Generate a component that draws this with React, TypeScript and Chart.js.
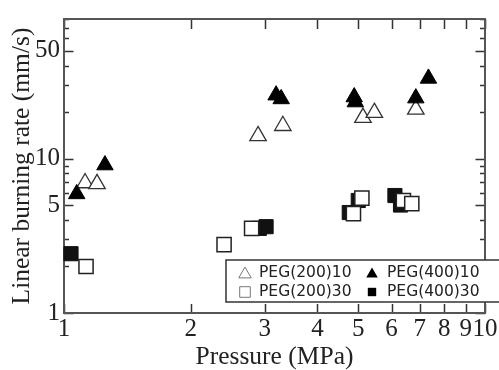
import React, { useEffect, useRef } from 'react';
import { Chart, registerables } from 'chart.js';

Chart.register(...registerables);

// ---- data ----
const seriesLabels = ['PEG(200)10', 'PEG(400)10', 'PEG(200)30', 'PEG(400)30'];

const peg200_10_x = [1.122, 1.198, 2.89, 3.31, 5.13, 5.46, 6.85];
const peg200_10_y = [6.94, 6.85, 14.0, 16.3, 18.4, 19.8, 20.8];

const peg400_10_x = [1.072, 1.251, 3.19, 3.28, 4.89, 4.92, 6.85, 7.34];
const peg400_10_y = [5.9, 9.07, 25.7, 24.3, 25.0, 23.2, 24.6, 33.0];

const peg200_30_x = [1.128, 2.40, 2.79, 4.87, 5.10, 6.40, 6.70];
const peg200_30_y = [2.0, 2.77, 3.53, 4.40, 5.54, 5.35, 5.10];

const peg400_30_x = [1.039, 2.91, 3.02, 4.76, 5.0, 6.11, 6.3];
const peg400_30_y = [2.42, 3.53, 3.62, 4.47, 5.35, 5.76, 5.0];

const xTicks = [1, 2, 3, 4, 5, 6, 7, 8, 9, 10];
const yTicks = [1, 2, 3, 4, 5, 6, 7, 8, 9, 10, 20, 30, 40, 50, 60, 70, 80];
const yLabelled = [1, 5, 10, 50];

const xTitle = 'Pressure (MPa)';
const yTitle = 'Linear burning rate (mm/s)';

const SERIF = '"Liberation Serif", "Times New Roman", serif';
const SANS = '"DejaVu Sans", Verdana, sans-serif';

const pts = (xs: number[], ys: number[]) => xs.map((x, i) => ({ x, y: ys[i] }));

const framePlugin = {
  id: 'frameTicks',
  beforeDatasetsDraw(chart: any) {
    const { ctx, chartArea, scales } = chart;
    const { left, right, top, bottom } = chartArea;
    const xs = scales.x;
    const ys = scales.y;
    ctx.save();
    ctx.strokeStyle = '#333';
    ctx.lineWidth = 1.5;
    ctx.beginPath();
    xTicks.forEach((v) => {
      const px = Math.round(xs.getPixelForValue(v)) + 0.5;
      ctx.moveTo(px, bottom);
      ctx.lineTo(px, bottom - 9);
      ctx.moveTo(px, top);
      ctx.lineTo(px, top + 10);
    });
    yTicks.forEach((v) => {
      const py = Math.round(ys.getPixelForValue(v)) + 0.5;
      const len = yLabelled.includes(v) ? 9.5 : 5;
      ctx.moveTo(left, py);
      ctx.lineTo(left + len, py);
      ctx.moveTo(right, py);
      ctx.lineTo(right - len, py);
    });
    ctx.stroke();
    ctx.strokeStyle = '#555';
    ctx.lineWidth = 2;
    ctx.strokeRect(left, top, right - left, bottom - top);
    ctx.restore();
  },
};

const legendPlugin = {
  id: 'boxLegend',
  afterDatasetsDraw(chart: any) {
    const { ctx, chartArea } = chart;
    const boxLeft = 226;
    const boxTop = 260;
    const boxBottom = 302;
    const boxRight = chartArea.right + 20;
    ctx.save();
    ctx.fillStyle = '#fff';
    ctx.fillRect(boxLeft, boxTop, boxRight - boxLeft, boxBottom - boxTop);
    ctx.strokeStyle = '#333';
    ctx.lineWidth = 1.5;
    ctx.strokeRect(boxLeft, boxTop, boxRight - boxLeft, boxBottom - boxTop);

    const colSym = [245, 372];
    const colText = [259, 387];
    const rowY = [272.5, 292];
    const layout: Record<string, [number, number]> = {
      [seriesLabels[0]]: [0, 0],
      [seriesLabels[1]]: [1, 0],
      [seriesLabels[2]]: [0, 1],
      [seriesLabels[3]]: [1, 1],
    };
    chart.data.datasets.forEach((ds: any) => {
      const pos = layout[ds.label];
      if (!pos) return;
      const cx = colSym[pos[0]];
      const cy = rowY[pos[1]];
      const filled = ds.backgroundColor !== '#ffffff';
      ctx.beginPath();
      if (ds.pointStyle === 'triangle') {
        const r = filled ? 6.7 : 7.2;
        const cyy = cy + r * 0.25;
        for (let k = 0; k < 3; k++) {
          const a = (k * 2 * Math.PI) / 3;
          const px = cx + Math.sin(a) * r;
          const py = cyy - Math.cos(a) * r;
          if (k === 0) ctx.moveTo(px, py);
          else ctx.lineTo(px, py);
        }
        ctx.closePath();
      } else {
        const h = filled ? 4.2 : 5.3;
        ctx.rect(cx - h, cy - h, 2 * h, 2 * h);
      }
      if (filled) {
        ctx.fillStyle = '#000';
        ctx.fill();
      } else {
        ctx.fillStyle = '#fff';
        ctx.fill();
        ctx.strokeStyle = '#777';
        ctx.lineWidth = 1;
        ctx.stroke();
      }
      ctx.fillStyle = '#222';
      ctx.font = `15.5px ${SANS}`;
      ctx.textAlign = 'left';
      ctx.textBaseline = 'middle';
      ctx.fillText(ds.label, colText[pos[0]], cy);
    });
    ctx.restore();
  },
};

export default function App() {
  const ref = useRef<HTMLCanvasElement | null>(null);

  useEffect(() => {
    if (!ref.current) return;
    const chart = new Chart(ref.current, {
      type: 'scatter',
      data: {
        datasets: [
          {
            label: seriesLabels[1],
            data: pts(peg400_10_x, peg400_10_y),
            pointStyle: 'triangle',
            pointRadius: 9.5,
            backgroundColor: '#000000',
            borderColor: '#000000',
            borderWidth: 1,
            clip: false,
          },
          {
            label: seriesLabels[2],
            data: pts(peg200_30_x, peg200_30_y),
            pointStyle: 'rect',
            pointRadius: 10,
            backgroundColor: '#ffffff',
            borderColor: '#222222',
            borderWidth: 1.5,
            clip: false,
          },
          {
            label: seriesLabels[0],
            data: pts(peg200_10_x, peg200_10_y),
            pointStyle: 'triangle',
            pointRadius: 9.5,
            backgroundColor: '#ffffff',
            borderColor: '#333333',
            borderWidth: 1.3,
            clip: false,
          },
          {
            label: seriesLabels[3],
            data: pts(peg400_30_x, peg400_30_y),
            pointStyle: 'rect',
            pointRadius: 10,
            backgroundColor: '#111111',
            borderColor: '#111111',
            borderWidth: 1,
            clip: false,
          },
        ] as any,
      },
      options: {
        responsive: false,
        devicePixelRatio: 1,
        animation: false,
        layout: { padding: { left: 0, right: 14, top: 13, bottom: 0 } },
        plugins: { legend: { display: false }, tooltip: { enabled: false } },
        scales: {
          x: {
            type: 'logarithmic',
            min: 1,
            max: 10,
            afterBuildTicks: (s: any) => {
              s.ticks = xTicks.map((v) => ({ value: v }));
            },
            afterFit: (s: any) => {
              s.height = 57;
            },
            grid: { display: false, drawTicks: false },
            border: { display: false },
            ticks: {
              autoSkip: false,
              maxRotation: 0,
              minRotation: 0,
              padding: 1,
              color: '#222',
              font: { family: SERIF, size: 25 },
              callback: (v: any) => String(v),
            },
            title: {
              display: true,
              text: xTitle,
              color: '#222',
              font: { family: SERIF, size: 25.5 },
              padding: { top: 0, bottom: -3 },
            },
          },
          y: {
            type: 'logarithmic',
            min: 1,
            max: 80,
            afterBuildTicks: (s: any) => {
              s.ticks = yTicks.map((v) => ({ value: v }));
            },
            afterFit: (s: any) => {
              s.width = 64;
            },
            grid: { display: false, drawTicks: false },
            border: { display: false },
            ticks: {
              autoSkip: false,
              padding: 4,
              color: '#222',
              font: { family: SERIF, size: 25 },
              callback: (v: any) => (yLabelled.includes(Number(v)) ? String(v) : ''),
            },
            title: {
              display: true,
              text: yTitle,
              color: '#222',
              font: { family: SERIF, size: 25.5 },
              padding: { top: 7, bottom: 0 },
            },
          },
        },
      } as any,
      plugins: [framePlugin, legendPlugin],
    });
    return () => chart.destroy();
  }, []);

  return (
    <div style={{ position: 'fixed', left: 0, top: 0, width: 499, height: 370, background: '#fff' }}>
      <canvas ref={ref} width={499} height={370} style={{ display: 'block' }} />
    </div>
  );
}
